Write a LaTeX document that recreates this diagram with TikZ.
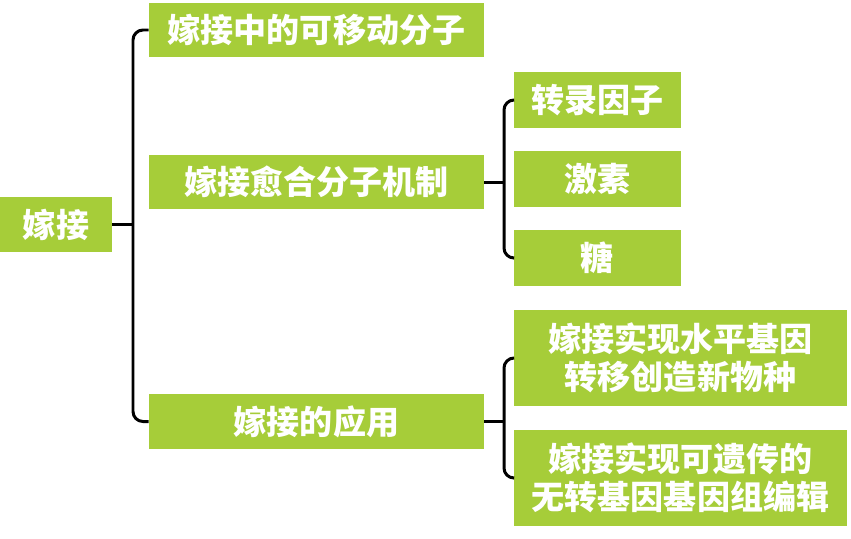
\documentclass[tikz,border=0pt]{standalone}
\usepackage{fontspec}
\newfontfamily\cjk{Noto Sans CJK SC}
\usetikzlibrary{positioning}
\definecolor{grafgreen}{HTML}{A6CD39}

\begin{document}
\begin{tikzpicture}[x=0.02cm, y=-0.02cm,
  topic/.style={rectangle, fill=grafgreen, text=white, inner sep=0pt, align=center,
    font=\cjk\bfseries\fontsize{18.8}{21.8}\selectfont, minimum width=#1},
  link/.style={line width=1.7pt, black},
  brace/.style={link, rounded corners=0.2cm},
]
  \useasboundingbox (0,0) rectangle (851,538);

  \node[topic=2.24cm, minimum height=1.1cm] (graft) at (56,224.5) {嫁接};

  \node[topic=6.7cm, minimum height=1.08cm] (mobile) at (316.5,30) {嫁接中的可移动分子};
  \node[topic=6.7cm, minimum height=1.08cm] (heal) at (316.5,182) {嫁接愈合分子机制};
  \node[topic=6.7cm, minimum height=1.1cm] (use) at (316.5,421.5) {嫁接的应用};

  \node[topic=3.34cm, minimum height=1.12cm] (tfactor) at (597.5,100) {转录因子};
  \node[topic=3.34cm, minimum height=1.12cm] (hormone) at (597.5,179) {激素};
  \node[topic=3.34cm, minimum height=1.12cm] (sugar) at (597.5,258) {糖};

  \node[topic=6.66cm, minimum height=1.92cm] (hgt) at (680.5,358) {嫁接实现水平基因\\转移创造新物种};
  \node[topic=6.66cm, minimum height=1.92cm] (edit) at (680.5,478) {嫁接实现可遗传的\\无转基因基因组编辑};

  % bracket joints
  \coordinate (j1) at (133,224.5);
  \coordinate (j2) at (504,182);
  \coordinate (j3) at (504,421.5);

  \draw[link] (graft.east) -- (j1);
  \draw[brace] (mobile.west) -| (j1) |- (use.west);
  \draw[link] (heal.east) -- (j2);
  \draw[brace] (tfactor.west) -| (j2) |- (sugar.west);
  \draw[link] (use.east) -- (j3);
  \draw[brace] (hgt.west) -| (j3) |- (edit.west);
\end{tikzpicture}
\end{document}
